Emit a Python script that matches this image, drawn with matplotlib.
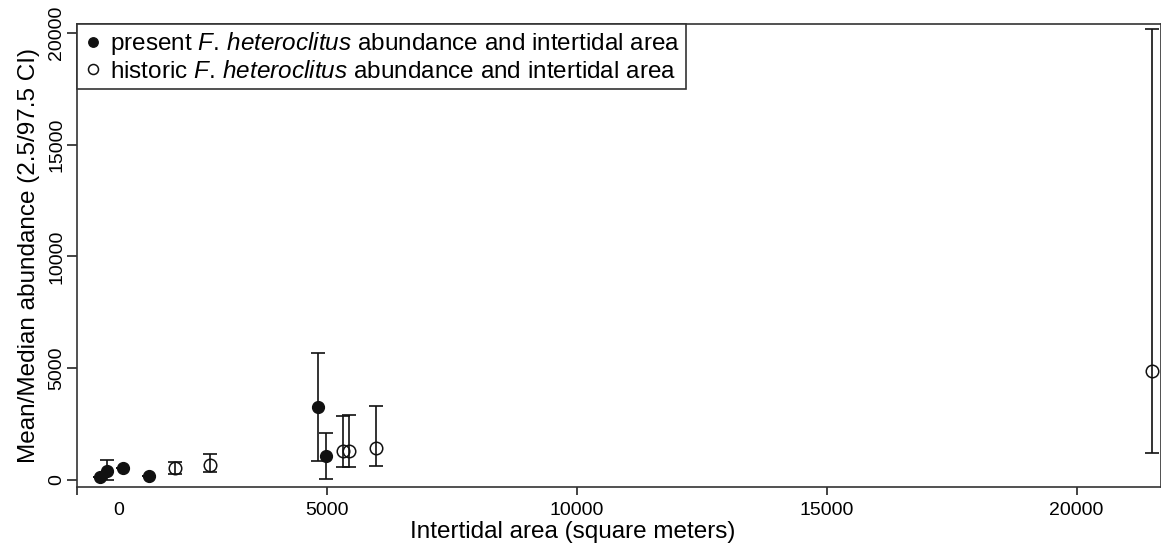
import matplotlib
matplotlib.use('Agg')
import matplotlib.pyplot as plt
import matplotlib.transforms as mtransforms
import numpy as np

plt.rcParams['font.family'] = ['Liberation Sans', 'DejaVu Sans']
plt.rcParams['mathtext.fontset'] = 'custom'
plt.rcParams['mathtext.it'] = 'Liberation Sans:italic'
plt.rcParams['mathtext.rm'] = 'Liberation Sans'

# present abundance (filled)
present_area = [470, 610, 930, 1450, 4830, 4990]
present_mean = [135, 400, 540, 180, 3270, 1070]
present_lo = [135, 0, 540, 180, 850, 45]
present_hi = [135, 900, 540, 180, 5680, 2100]

# historic abundance (open)
historic_area = [1970, 2670, 5330, 5450, 5990, 21510]
historic_mean = [540, 670, 1300, 1300, 1430, 4880]
historic_lo = [270, 360, 580, 580, 630, 1210]
historic_hi = [805, 1160, 2860, 2910, 3310, 20180]

x_ticks = [0, 5000, 10000, 15000, 20000]
y_ticks = [0, 5000, 10000, 15000, 20000]

ink = '#111111'

fig = plt.figure(figsize=(11.61, 5.43), dpi=100)
ax = fig.add_axes([77 / 1161, 1 - 487 / 543, 1 - 77 / 1161, (487 - 24) / 543])

def err(mean, lo, hi):
    m = np.array(mean, dtype=float)
    return [m - np.array(lo), np.array(hi) - m]

ax.errorbar(present_area, present_mean, yerr=err(present_mean, present_lo, present_hi),
            fmt='none', ecolor=ink, elinewidth=1.2, capsize=5, capthick=1.2)
ax.plot(present_area, present_mean, 'o', color=ink, markersize=8.5,
        label=r'present $\it{F.\,heteroclitus}$ abundance and intertidal area')
ax.errorbar(historic_area, historic_mean, yerr=err(historic_mean, historic_lo, historic_hi),
            fmt='none', ecolor=ink, elinewidth=1.2, capsize=5, capthick=1.2)
ax.plot(historic_area, historic_mean, 'o', markersize=9, markerfacecolor='none',
        markeredgecolor=ink, markeredgewidth=1.1,
        label=r'historic $\it{F.\,heteroclitus}$ abundance and intertidal area')

ax.set_xlim(0, 21690)
ax.set_ylim(-313, 20400)
ax.set_xticks(x_ticks)
ax.set_xticklabels([str(t) for t in x_ticks], fontsize=14)
ax.set_yticks(y_ticks)
ax.set_yticklabels([str(t) for t in y_ticks], rotation=90, va='center', fontsize=14)

ax.tick_params(axis='both', direction='out', color=ink, width=1.1)
ax.tick_params(axis='x', length=6, pad=5)
ax.tick_params(axis='y', length=7, pad=1.5)
for sp in ax.spines.values():
    sp.set_color('#333333')
    sp.set_linewidth(1.2)

# the "0" label sits to the right of its tick in the original
lbl0 = ax.get_xticklabels()[0]
lbl0.set_transform(lbl0.get_transform() +
                   mtransforms.ScaledTranslation(0.415, 0, fig.dpi_scale_trans))

ax.set_xlabel('Intertidal area (square meters)', fontsize=17.5)
ax.xaxis.set_label_coords((573 - 77) / (1161 - 77), -0.097)
ax.xaxis.label.set_va('center')
ax.set_ylabel('Mean/Median abundance (2.5/97.5 CI)', fontsize=17.5, labelpad=6)

leg = ax.legend(loc='upper left', borderaxespad=0, fancybox=False, framealpha=1,
                edgecolor='#333333', fontsize=17.5, handletextpad=0.3,
                handlelength=0.8, borderpad=0.25, labelspacing=0.15, markerscale=0.8)
leg.get_frame().set_linewidth(1.2)

fig.savefig('out.png', dpi=100, facecolor='white')
